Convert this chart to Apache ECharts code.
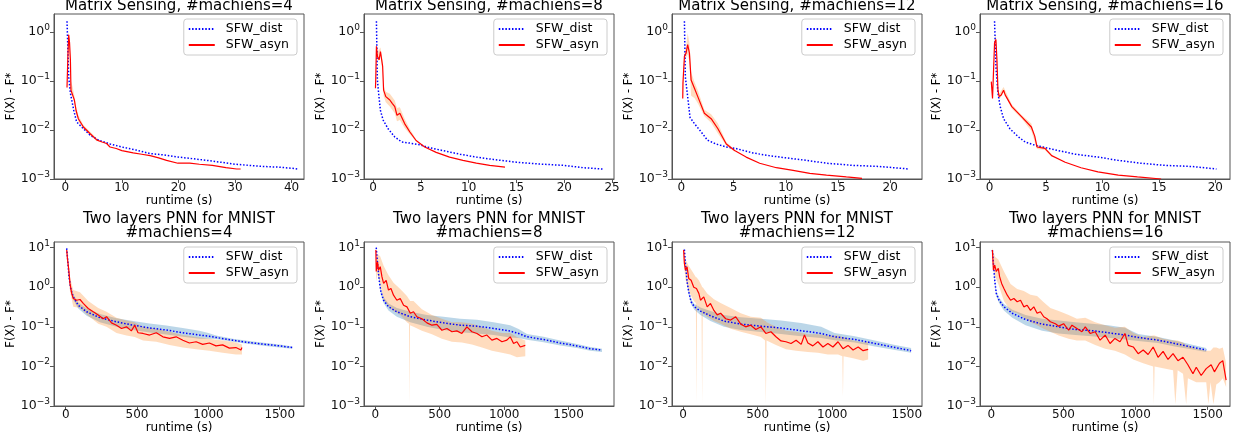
<!DOCTYPE html>
<html><head><meta charset="utf-8">
<script src="https://cdn.jsdelivr.net/npm/echarts@6/dist/echarts.min.js"></script>
<style>html,body{margin:0;padding:0;background:#fff}#c{width:1233px;height:437px}</style>
</head><body><div id="c"></div><script>
// ---------- tick labels ----------
const xTicksMS4 = [0, 10, 20, 30, 40];
const xTicksMS8 = [0, 5, 10, 15, 20, 25];
const xTicksMS12 = [0, 5, 10, 15, 20];
const xTicksMS16 = [0, 5, 10, 15, 20];
const xTicksPNN = [0, 500, 1000, 1500];
const yTicksMS = [0.001, 0.01, 0.1, 1];
const yTicksPNN = [0.001, 0.01, 0.1, 1, 10];
const titles = [
  'Matrix Sensing, #machiens=4', 'Matrix Sensing, #machiens=8',
  'Matrix Sensing, #machiens=12', 'Matrix Sensing, #machiens=16',
  'Two layers PNN for MNIST\n#machiens=4', 'Two layers PNN for MNIST\n#machiens=8',
  'Two layers PNN for MNIST\n#machiens=12', 'Two layers PNN for MNIST\n#machiens=16'
];
const seriesNames = ['SFW_dist', 'SFW_asyn'];

// ---------- Matrix sensing, 4 machines ----------
const ms4_dist_t = [0.3, 0.6, 0.9, 1.5, 2, 3.2, 4.4, 5.9, 7.9, 10, 12.5, 15, 17.5, 20, 22.5, 25, 27.5, 30, 32.5, 35, 37.5, 40, 41];
const ms4_dist_v = [1.66, 0.12, 0.056, 0.025, 0.0146, 0.0106, 0.0078, 0.0062, 0.0052, 0.0045, 0.0039, 0.0033, 0.0031, 0.0028, 0.0026, 0.0024, 0.0022, 0.0020, 0.0019, 0.0018, 0.00175, 0.00166, 0.0016];
const ms4_asyn_t = [0.3, 0.45, 0.6, 0.75, 0.9, 1.0, 1.2, 1.6, 1.9, 2.3, 3.2, 4.4, 5.6, 6.5, 7.3, 7.9, 9, 10, 12, 13.5, 15, 16.5, 17.9, 19.9, 22, 23.7, 26, 28.4, 30.3, 31];
const ms4_asyn_v = [0.074, 0.3, 0.88, 0.6, 0.27, 0.065, 0.06, 0.041, 0.025, 0.017, 0.0115, 0.0084, 0.0062, 0.0057, 0.0053, 0.0045, 0.0042, 0.0038, 0.0034, 0.0032, 0.0030, 0.0027, 0.0024, 0.0021, 0.0021, 0.0020, 0.0019, 0.0017, 0.0016, 0.0016];
const ms4_band_t = [0.3, 0.5, 0.6, 0.8, 1.0, 1.3, 1.6, 1.9, 2.3, 3.2, 5.6];
const ms4_band_lo = [0.06, 0.4, 0.7, 0.3, 0.05, 0.05, 0.035, 0.021, 0.015, 0.0105, 0.0058];
const ms4_band_hi = [0.09, 0.85, 1.0, 0.6, 0.1, 0.075, 0.05, 0.031, 0.02, 0.0126, 0.0067];

// ---------- Matrix sensing, 8 machines ----------
const ms8_dist_t = [0.35, 0.45, 0.6, 0.77, 1.05, 1.57, 2.27, 3.0, 3.85, 4.9, 5.6, 7.3, 9.1, 10.8, 12.6, 15, 17.8, 19.9, 22, 24];
const ms8_dist_v = [1.66, 0.105, 0.051, 0.025, 0.016, 0.0106, 0.0072, 0.0057, 0.0054, 0.005, 0.0045, 0.0038, 0.0032, 0.0028, 0.0025, 0.0022, 0.002, 0.0019, 0.0017, 0.0016];
const ms8_asyn_t = [0.25, 0.28, 0.35, 0.45, 0.63, 0.77, 1.0, 1.1, 1.33, 1.75, 2.0, 2.27, 2.5, 2.8, 3.3, 3.85, 4.5, 5.4, 6.6, 8, 9.4, 10.8, 12.2, 13.8];
const ms8_asyn_v = [0.071, 0.11, 0.51, 0.32, 0.27, 0.4, 0.2, 0.065, 0.048, 0.041, 0.035, 0.030, 0.020, 0.022, 0.0135, 0.0091, 0.0061, 0.0045, 0.0035, 0.0028, 0.0024, 0.0021, 0.0019, 0.00175];
const ms8_band_t = [0.25, 0.35, 0.5, 0.77, 1.0, 1.1, 1.33, 1.75, 2.27, 2.5, 2.8, 3.3, 3.85, 4.5];
const ms8_band_lo = [0.065, 0.4, 0.25, 0.33, 0.15, 0.05, 0.037, 0.03, 0.022, 0.015, 0.016, 0.011, 0.0082, 0.0058];
const ms8_band_hi = [0.11, 0.6, 0.4, 0.48, 0.26, 0.08, 0.06, 0.055, 0.04, 0.028, 0.029, 0.017, 0.0105, 0.0065];

// ---------- Matrix sensing, 12 machines ----------
const ms12_dist_t = [0.29, 0.38, 0.6, 0.83, 1.25, 1.9, 2.5, 3.3, 4.3, 5.2, 6.85, 8.4, 10, 12, 13.9, 16.4, 19, 21.8];
const ms12_dist_v = [1.66, 0.12, 0.048, 0.018, 0.0135, 0.0091, 0.0062, 0.0052, 0.0045, 0.0042, 0.0034, 0.003, 0.0027, 0.0024, 0.0021, 0.0019, 0.0018, 0.0016];
const ms12_asyn_t = [0.13, 0.15, 0.29, 0.45, 0.6, 0.77, 0.93, 1.25, 1.57, 2.2, 2.85, 3.5, 4.3, 5.1, 6.2, 7.5, 9.1, 10.7, 12.3, 13.9, 15.8, 17.3];
const ms12_asyn_v = [0.044, 0.09, 0.32, 0.37, 0.55, 0.37, 0.105, 0.071, 0.048, 0.022, 0.017, 0.0106, 0.0052, 0.0038, 0.0028, 0.0021, 0.0017, 0.0015, 0.0013, 0.0012, 0.0011, 0.00103];
const ms12_band_t = [0.13, 0.29, 0.45, 0.6, 0.77, 0.93, 1.25, 1.57, 2.2, 2.85, 3.5, 4.3, 5.1];
const ms12_band_lo = [0.04, 0.25, 0.3, 0.35, 0.25, 0.05, 0.045, 0.035, 0.019, 0.014, 0.0085, 0.0048, 0.0036];
const ms12_band_hi = [0.1, 0.4, 0.5, 0.95, 0.6, 0.15, 0.095, 0.065, 0.026, 0.021, 0.0135, 0.0057, 0.004];

// ---------- Matrix sensing, 16 machines ----------
const ms16_dist_t = [0.44, 0.56, 0.74, 0.94, 1.24, 1.8, 2.56, 3.15, 4, 5.06, 6.1, 7.6, 9.6, 11.4, 13.4, 15.5, 17.9, 20.1];
const ms16_dist_v = [1.66, 0.2, 0.056, 0.03, 0.017, 0.0106, 0.0072, 0.0057, 0.0049, 0.0043, 0.0038, 0.0032, 0.0028, 0.0024, 0.0021, 0.0019, 0.0018, 0.0016];
const ms16_asyn_t = [0.15, 0.26, 0.44, 0.56, 0.65, 0.74, 0.85, 1.03, 1.24, 1.38, 1.97, 2.85, 3.7, 4.0, 4.2, 4.9, 5.5, 6.7, 8.1, 9.6, 11.4, 13.1, 15.2];
const ms16_asyn_v = [0.097, 0.044, 0.6, 0.7, 0.27, 0.065, 0.048, 0.052, 0.065, 0.052, 0.03, 0.0185, 0.0115, 0.0075, 0.0045, 0.0042, 0.003, 0.0022, 0.0017, 0.0014, 0.0012, 0.0011, 0.001];
const ms16_band_t = [0.44, 0.56, 0.65, 0.74, 0.85, 1.24, 1.97, 2.85, 3.7, 4.2, 4.9, 5.5];
const ms16_band_lo = [0.45, 0.55, 0.2, 0.055, 0.042, 0.058, 0.027, 0.017, 0.0095, 0.0041, 0.0039, 0.0028];
const ms16_band_hi = [0.75, 0.85, 0.35, 0.075, 0.055, 0.075, 0.033, 0.02, 0.0135, 0.005, 0.0045, 0.0032];

// ---------- PNN MNIST, 4 machines ----------
const pnn4_dist_t = [7, 14, 23, 35, 53, 88, 147, 240, 356, 472, 588, 705, 820, 937, 1000, 1053, 1170, 1286, 1402, 1500, 1588];
const pnn4_dist_v = [9.6, 4.9, 1.85, 0.93, 0.57, 0.35, 0.24, 0.17, 0.134, 0.11, 0.094, 0.083, 0.071, 0.062, 0.058, 0.054, 0.046, 0.040, 0.036, 0.033, 0.03];
const pnn4_dist_lo = [8.5, 4.2, 1.6, 0.8, 0.48, 0.29, 0.19, 0.13, 0.1, 0.083, 0.072, 0.064, 0.056, 0.05, 0.05, 0.049, 0.042, 0.037, 0.033, 0.03, 0.028];
const pnn4_dist_hi = [10.5, 5.6, 2.1, 1.05, 0.66, 0.41, 0.29, 0.21, 0.165, 0.14, 0.122, 0.108, 0.094, 0.08, 0.07, 0.06, 0.05, 0.044, 0.039, 0.036, 0.032];
const pnn4_asyn_t = [7, 12, 19, 26, 30, 42, 53, 77, 100, 123, 158, 193, 228, 263, 286, 321, 356, 391, 426, 460, 484, 507, 542, 588, 635, 681, 728, 774, 821, 867, 914, 960, 1007, 1053, 1100, 1147, 1193, 1228, 1235];
const pnn4_asyn_v = [8.7, 5.4, 3.3, 1.85, 1.25, 0.7, 0.52, 0.47, 0.49, 0.39, 0.29, 0.24, 0.2, 0.16, 0.18, 0.126, 0.11, 0.091, 0.1, 0.079, 0.11, 0.071, 0.068, 0.062, 0.071, 0.056, 0.051, 0.056, 0.046, 0.039, 0.042, 0.036, 0.039, 0.033, 0.035, 0.029, 0.030, 0.026, 0.03];
const pnn4_band_t = [7, 19, 30, 53, 100, 158, 228, 286, 356, 426, 484, 542, 635, 728, 821, 914, 1007, 1100, 1193, 1235];
const pnn4_band_lo = [6, 2.2, 0.8, 0.32, 0.3, 0.19, 0.12, 0.1, 0.07, 0.06, 0.055, 0.045, 0.042, 0.035, 0.03, 0.027, 0.025, 0.022, 0.02, 0.02];
const pnn4_band_hi = [10, 4.5, 1.8, 0.85, 0.75, 0.45, 0.3, 0.24, 0.17, 0.145, 0.13, 0.1, 0.09, 0.075, 0.062, 0.055, 0.05, 0.045, 0.04, 0.036];

// ---------- PNN MNIST, 8 machines ----------
const pnn8_dist_t = [8, 18, 31, 44, 65, 103, 168, 272, 401, 530, 659, 789, 918, 1047, 1112, 1177, 1306, 1435, 1565, 1668, 1759];
const pnn8_dist_v = [10, 4, 1.5, 0.77, 0.47, 0.32, 0.24, 0.18, 0.148, 0.126, 0.11, 0.104, 0.091, 0.078, 0.068, 0.056, 0.048, 0.039, 0.033, 0.028, 0.026];
const pnn8_dist_lo = [9, 3.5, 1.3, 0.66, 0.4, 0.26, 0.18, 0.13, 0.1, 0.083, 0.073, 0.068, 0.062, 0.054, 0.052, 0.047, 0.041, 0.034, 0.029, 0.025, 0.023];
const pnn8_dist_hi = [11, 4.6, 1.75, 0.9, 0.56, 0.39, 0.3, 0.24, 0.2, 0.18, 0.16, 0.15, 0.13, 0.11, 0.088, 0.066, 0.056, 0.045, 0.037, 0.031, 0.028];
const pnn8_asyn_t = [5, 8, 18, 26, 39, 52, 65, 85, 103, 122, 142, 168, 194, 220, 246, 272, 297, 323, 362, 401, 440, 478, 517, 556, 595, 633, 672, 711, 750, 789, 828, 866, 905, 944, 983, 1021, 1047, 1073, 1099, 1125, 1164];
const pnn8_asyn_v = [8.7, 2.5, 4.4, 2.7, 3.3, 1.85, 1.25, 1.5, 0.85, 0.93, 0.63, 0.47, 0.52, 0.35, 0.32, 0.22, 0.24, 0.18, 0.16, 0.126, 0.11, 0.115, 0.082, 0.091, 0.075, 0.079, 0.068, 0.1, 0.075, 0.068, 0.056, 0.062, 0.046, 0.051, 0.042, 0.046, 0.056, 0.038, 0.042, 0.031, 0.034];
const pnn8_band_t = [5, 8, 18, 39, 65, 103, 142, 194, 246, 262, 266, 270, 297, 362, 440, 517, 595, 672, 750, 828, 905, 983, 1047, 1099, 1164];
const pnn8_band_lo = [4, 1.4, 2.2, 1.2, 0.5, 0.33, 0.25, 0.2, 0.13, 0.12, 0.0011, 0.11, 0.1, 0.08, 0.065, 0.05, 0.042, 0.04, 0.036, 0.03, 0.025, 0.022, 0.02, 0.017, 0.018];
const pnn8_band_hi = [10, 5, 7, 6, 3.5, 2, 1.3, 0.9, 0.6, 0.5, 0.48, 0.45, 0.45, 0.28, 0.2, 0.16, 0.13, 0.13, 0.12, 0.1, 0.08, 0.07, 0.07, 0.055, 0.045];

// ---------- PNN MNIST, 12 machines ----------
const pnn12_dist_t = [9, 16, 27, 38, 54, 76, 117, 184, 274, 387, 522, 657, 792, 926, 1016, 1151, 1286, 1421, 1529];
const pnn12_dist_v = [9, 4, 1.4, 0.77, 0.43, 0.32, 0.25, 0.19, 0.14, 0.117, 0.104, 0.093, 0.08, 0.068, 0.056, 0.048, 0.038, 0.03, 0.025];
const pnn12_dist_lo = [8, 3.5, 1.2, 0.66, 0.37, 0.27, 0.2, 0.14, 0.1, 0.083, 0.074, 0.066, 0.058, 0.052, 0.046, 0.04, 0.032, 0.026, 0.022];
const pnn12_dist_hi = [10, 4.5, 1.6, 0.88, 0.5, 0.38, 0.31, 0.25, 0.2, 0.175, 0.16, 0.145, 0.125, 0.1, 0.07, 0.058, 0.045, 0.035, 0.029];
const pnn12_asyn_t = [4, 9, 16, 27, 38, 54, 72, 90, 106, 117, 139, 162, 184, 207, 229, 252, 286, 319, 353, 387, 420, 454, 488, 522, 555, 589, 623, 657, 690, 724, 758, 792, 814, 837, 870, 904, 938, 971, 1005, 1039, 1072, 1106, 1140, 1174, 1207, 1241];
const pnn12_asyn_v = [8.7, 4, 2.7, 3.3, 1.67, 1.5, 1.0, 0.93, 0.7, 0.47, 0.57, 0.32, 0.39, 0.26, 0.2, 0.22, 0.16, 0.148, 0.18, 0.117, 0.1, 0.11, 0.086, 0.1, 0.068, 0.075, 0.056, 0.044, 0.042, 0.038, 0.046, 0.036, 0.062, 0.039, 0.033, 0.042, 0.031, 0.038, 0.031, 0.042, 0.028, 0.034, 0.026, 0.031, 0.025, 0.027];
const pnn12_band_t = [4, 16, 38, 72, 86, 90, 94, 106, 124, 128, 132, 162, 207, 252, 319, 387, 454, 522, 550, 555, 560, 623, 690, 758, 837, 904, 971, 1039, 1068, 1072, 1076, 1140, 1207, 1241];
const pnn12_band_lo = [5, 1.6, 0.8, 0.45, 0.4, 0.0011, 0.35, 0.3, 0.25, 0.0011, 0.22, 0.18, 0.14, 0.12, 0.09, 0.075, 0.065, 0.055, 0.045, 0.0011, 0.045, 0.035, 0.027, 0.025, 0.023, 0.022, 0.02, 0.02, 0.018, 0.0017, 0.018, 0.016, 0.014, 0.015];
const pnn12_band_hi = [10, 5, 3.5, 2.2, 1.8, 1.8, 1.7, 1.5, 1.1, 1.0, 1.0, 0.7, 0.5, 0.4, 0.3, 0.22, 0.18, 0.17, 0.14, 0.14, 0.13, 0.1, 0.08, 0.075, 0.065, 0.065, 0.06, 0.06, 0.055, 0.055, 0.055, 0.045, 0.04, 0.042];

// ---------- PNN MNIST, 16 machines ----------
const pnn16_dist_t = [7, 14, 23, 34, 53, 87, 145, 237, 352, 467, 582, 697, 811, 926, 1018, 1156, 1271, 1386, 1490];
const pnn16_dist_v = [8.7, 4, 1.5, 0.7, 0.47, 0.32, 0.22, 0.153, 0.117, 0.1, 0.086, 0.08, 0.071, 0.062, 0.054, 0.046, 0.038, 0.031, 0.026];
const pnn16_dist_lo = [7.8, 3.5, 1.3, 0.6, 0.4, 0.26, 0.17, 0.11, 0.08, 0.068, 0.062, 0.058, 0.053, 0.048, 0.044, 0.039, 0.032, 0.027, 0.023];
const pnn16_dist_hi = [9.6, 4.5, 1.7, 0.8, 0.55, 0.38, 0.27, 0.2, 0.16, 0.145, 0.13, 0.12, 0.11, 0.095, 0.066, 0.055, 0.045, 0.036, 0.029];
const pnn16_asyn_t = [7, 14, 23, 34, 48, 57, 71, 87, 110, 133, 156, 179, 202, 225, 248, 271, 294, 317, 340, 363, 386, 409, 444, 467, 501, 536, 559, 593, 628, 651, 685, 720, 754, 789, 823, 857, 892, 926, 949, 984, 1018, 1053, 1087, 1122, 1156, 1191, 1225, 1260, 1294, 1329, 1363, 1398, 1421, 1455, 1490, 1524, 1547, 1582, 1605, 1628];
const pnn16_asyn_v = [8.7, 2.7, 3.6, 2.5, 3, 1.85, 1.25, 0.93, 0.63, 0.47, 0.52, 0.43, 0.47, 0.32, 0.35, 0.26, 0.32, 0.22, 0.24, 0.18, 0.16, 0.134, 0.12, 0.104, 0.12, 0.082, 0.11, 0.091, 0.075, 0.1, 0.068, 0.075, 0.046, 0.062, 0.038, 0.051, 0.042, 0.068, 0.034, 0.031, 0.021, 0.026, 0.02, 0.031, 0.017, 0.024, 0.015, 0.021, 0.014, 0.017, 0.011, 0.0065, 0.0095, 0.0059, 0.0088, 0.011, 0.0073, 0.012, 0.014, 0.0045];
const pnn16_band_t = [7, 23, 48, 87, 133, 179, 225, 271, 317, 363, 409, 467, 536, 593, 651, 720, 789, 857, 926, 984, 1053, 1122, 1127, 1132, 1191, 1260, 1276, 1292, 1329, 1351, 1363, 1421, 1490, 1505, 1520, 1540, 1560, 1582, 1605, 1628];
const pnn16_band_lo = [6, 2, 1.2, 0.45, 0.25, 0.22, 0.17, 0.13, 0.11, 0.09, 0.075, 0.06, 0.05, 0.045, 0.045, 0.035, 0.028, 0.025, 0.02, 0.015, 0.012, 0.01, 0.0011, 0.01, 0.009, 0.008, 0.0011, 0.008, 0.0065, 0.0011, 0.005, 0.004, 0.004, 0.0011, 0.004, 0.0011, 0.0035, 0.004, 0.005, 0.003];
const pnn16_band_hi = [10, 6, 5, 2.5, 1.2, 0.9, 0.8, 0.65, 0.6, 0.42, 0.3, 0.25, 0.2, 0.16, 0.17, 0.13, 0.11, 0.095, 0.1, 0.07, 0.055, 0.06, 0.06, 0.06, 0.05, 0.045, 0.045, 0.045, 0.04, 0.035, 0.035, 0.028, 0.025, 0.025, 0.025, 0.03, 0.03, 0.028, 0.03, 0.012];

// ---------- layout ----------
const W = 1233;
const COL_LEFT = [54, 364, 672, 980];
const PLOT_W = 250;
const ROW_TOP = [14, 242];
const ROW_H = [165, 164];
const FONT = 'DejaVu Sans';

const panels = [
  {xr: [-2, 42.2], xt: xTicksMS4, yr: [0.001, 2.33], yt: yTicksMS, dist: [ms4_dist_t, ms4_dist_v], asyn: [ms4_asyn_t, ms4_asyn_v], dband: null, aband: [ms4_band_t, ms4_band_lo, ms4_band_hi]},
  {xr: [-0.95, 25.2], xt: xTicksMS8, yr: [0.001, 2.33], yt: yTicksMS, dist: [ms8_dist_t, ms8_dist_v], asyn: [ms8_asyn_t, ms8_asyn_v], dband: null, aband: [ms8_band_t, ms8_band_lo, ms8_band_hi]},
  {xr: [-0.9, 23.05], xt: xTicksMS12, yr: [0.001, 2.33], yt: yTicksMS, dist: [ms12_dist_t, ms12_dist_v], asyn: [ms12_asyn_t, ms12_asyn_v], dband: null, aband: [ms12_band_t, ms12_band_lo, ms12_band_hi]},
  {xr: [-0.85, 21.3], xt: xTicksMS16, yr: [0.001, 2.33], yt: yTicksMS, dist: [ms16_dist_t, ms16_dist_v], asyn: [ms16_asyn_t, ms16_asyn_v], dband: null, aband: [ms16_band_t, ms16_band_lo, ms16_band_hi]},
  {xr: [-82, 1670], xt: xTicksPNN, yr: [0.001, 13.9], yt: yTicksPNN, dist: [pnn4_dist_t, pnn4_dist_v], asyn: [pnn4_asyn_t, pnn4_asyn_v], dband: [pnn4_dist_t, pnn4_dist_lo, pnn4_dist_hi], aband: [pnn4_band_t, pnn4_band_lo, pnn4_band_hi]},
  {xr: [-87, 1852], xt: xTicksPNN, yr: [0.001, 13.9], yt: yTicksPNN, dist: [pnn8_dist_t, pnn8_dist_v], asyn: [pnn8_asyn_t, pnn8_asyn_v], dband: [pnn8_dist_t, pnn8_dist_lo, pnn8_dist_hi], aband: [pnn8_band_t, pnn8_band_lo, pnn8_band_hi]},
  {xr: [-74, 1602], xt: xTicksPNN, yr: [0.001, 13.9], yt: yTicksPNN, dist: [pnn12_dist_t, pnn12_dist_v], asyn: [pnn12_asyn_t, pnn12_asyn_v], dband: [pnn12_dist_t, pnn12_dist_lo, pnn12_dist_hi], aband: [pnn12_band_t, pnn12_band_lo, pnn12_band_hi]},
  {xr: [-79, 1655], xt: xTicksPNN, yr: [0.001, 13.9], yt: yTicksPNN, dist: [pnn16_dist_t, pnn16_dist_v], asyn: [pnn16_asyn_t, pnn16_asyn_v], dband: [pnn16_dist_t, pnn16_dist_lo, pnn16_dist_hi], aband: [pnn16_band_t, pnn16_band_lo, pnn16_band_hi]}
];

const zip = (a, b) => a.map((x, i) => [x, b[i]]);
function supLabel(v) {
  const e = Math.round(Math.log10(v));
  if (Math.abs(Math.log10(v) - e) > 1e-6) return '';
  return '{b|10}{s|' + (e < 0 ? '\u2212' + (-e) : String(e)) + '}';
}
function bandSeries(gi, band, color) {
  const t = band[0], lo = band[1], hi = band[2];
  const data = t.map((x, i) => [x, lo[i], hi[i]]);
  return {
    type: 'custom', xAxisIndex: gi, yAxisIndex: gi, silent: true, z: 1, clip: true,
    data: data,
    encode: {x: 0, y: [1, 2]},
    renderItem: function (params, api) {
      if (params.dataIndex !== 0) return null;
      const pts = [];
      for (let i = 0; i < data.length; i++) pts.push(api.coord([data[i][0], data[i][2]]));
      for (let i = data.length - 1; i >= 0; i--) pts.push(api.coord([data[i][0], data[i][1]]));
      return {type: 'polygon', shape: {points: pts}, style: {fill: color}};
    }
  };
}

const grid = [], xAxis = [], yAxis = [], series = [], title = [], legend = [];
panels.forEach((p, gi) => {
  const row = gi < 4 ? 0 : 1, col = gi % 4;
  const left = COL_LEFT[col], top = ROW_TOP[row], h = ROW_H[row];
  grid.push({left: left, top: top, width: PLOT_W, height: h, show: true, borderColor: '#555', borderWidth: 1, backgroundColor: 'transparent'});
  xAxis.push({
    type: 'value', gridIndex: gi, min: p.xr[0], max: p.xr[1],
    name: 'runtime (s)', nameLocation: 'middle', nameGap: row === 0 ? 12 : 13,
    nameTextStyle: {fontSize: 12, fontFamily: FONT, color: '#000'},
    axisLine: {show: true, onZero: false, lineStyle: {color: '#555', width: 1}},
    axisTick: {show: true, length: 4, customValues: p.xt, lineStyle: {color: '#555'}},
    axisLabel: {show: true, customValues: p.xt, margin: 3, fontSize: 12, fontFamily: FONT, color: '#111', formatter: v => String(v)},
    splitLine: {show: false}
  });
  yAxis.push({
    type: 'log', logBase: 10, gridIndex: gi, min: p.yr[0], max: p.yr[1],
    name: 'F(X) - F*', nameLocation: 'middle', nameGap: 32,
    nameTextStyle: {fontSize: 11.5, fontFamily: FONT, color: '#000'},
    axisLine: {show: true, onZero: false, lineStyle: {color: '#555', width: 1}},
    axisTick: {show: true, length: 4, customValues: p.yt, lineStyle: {color: '#555'}},
    axisLabel: {show: true, customValues: p.yt, margin: 4, formatter: supLabel,
      rich: {b: {fontSize: 12.5, fontFamily: FONT, color: '#111', lineHeight: 18},
             s: {fontSize: 9, fontFamily: FONT, color: '#111', lineHeight: 8, verticalAlign: 'top'}}},
    splitLine: {show: false}, minorTick: {show: false}
  });
  if (p.dband) series.push(bandSeries(gi, p.dband, 'rgba(31,119,180,0.30)'));
  if (p.aband) series.push(bandSeries(gi, p.aband, 'rgba(255,127,14,0.27)'));
  series.push({
    type: 'line', name: seriesNames[0], xAxisIndex: gi, yAxisIndex: gi, z: 3,
    data: zip(p.dist[0], p.dist[1]), symbol: 'none', showSymbol: false, smooth: false,
    lineStyle: {color: '#0000ff', width: 1.5, type: [1.5, 1.8]}, itemStyle: {color: '#0000ff'}
  });
  series.push({
    type: 'line', name: seriesNames[1], xAxisIndex: gi, yAxisIndex: gi, z: 4,
    data: zip(p.asyn[0], p.asyn[1]), symbol: 'none', showSymbol: false, smooth: false,
    lineStyle: {color: '#ff0000', width: 1.2}, itemStyle: {color: '#ff0000'}
  });
  const cx = left + PLOT_W / 2;
  title.push({
    text: titles[gi], left: cx, top: row === 0 ? -2 : 212, textAlign: 'center', padding: 0,
    textStyle: {fontSize: 15, fontWeight: 'normal', fontFamily: FONT, color: '#000', lineHeight: row === 0 ? 16 : 14}
  });
  legend.push({
    orient: 'vertical', right: W - (left + PLOT_W) + 7, top: top + 5,
    data: seriesNames, itemWidth: 26, itemHeight: 10, itemGap: 2, padding: [3, 8, 3, 4],
    backgroundColor: 'rgba(255,255,255,0.8)', borderColor: '#cccccc', borderWidth: 1, borderRadius: 3,
    selectedMode: false,
    itemStyle: {opacity: 0, borderWidth: 0},
    textStyle: {fontSize: 12.5, fontFamily: FONT, color: '#000', lineHeight: 14, padding: [0, 0, 0, 6]}
  });
});

const chart = echarts.init(document.getElementById('c'), null, {renderer: 'canvas'});
chart.setOption({animation: false, backgroundColor: '#fff', grid, xAxis, yAxis, series, title, legend});
</script></body></html>
